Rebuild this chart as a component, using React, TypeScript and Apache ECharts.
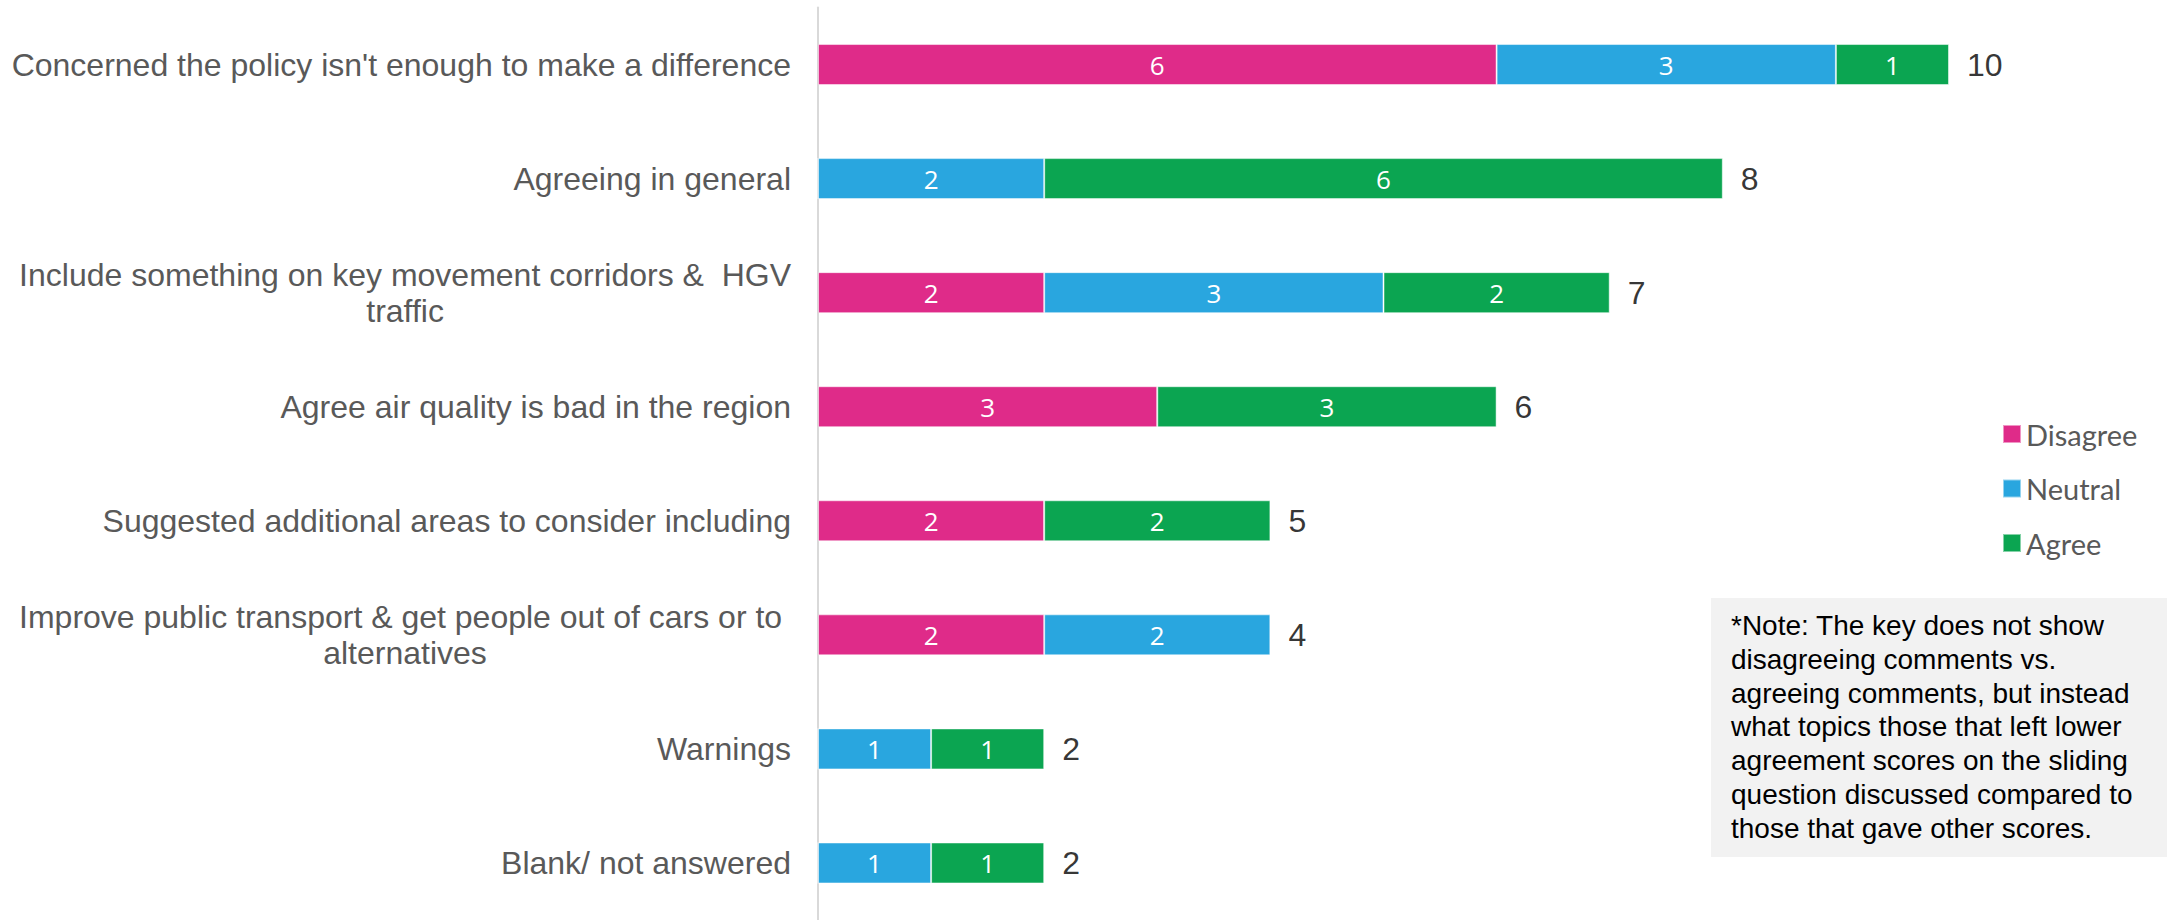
import React, { useEffect, useRef } from "react";
import * as echarts from "echarts";

const categories: string[] = [
  "Concerned the policy isn't enough to make a difference",
  "Agreeing in general",
  "Include something on key movement corridors &  HGV\ntraffic",
  "Agree air quality is bad in the region",
  "Suggested additional areas to consider including",
  "Improve public transport & get people out of cars or to \nalternatives",
  "Warnings",
  "Blank/ not answered",
];

const disagree: number[] = [6, 0, 2, 3, 2, 2, 0, 0];
const neutral: number[] = [3, 2, 3, 0, 0, 2, 1, 1];
const agree: number[] = [1, 6, 2, 3, 2, 0, 1, 1];
const totals: number[] = [10, 8, 7, 6, 5, 4, 2, 2];

const seriesNames: string[] = ["Disagree", "Neutral", "Agree"];

const noteLines: string[] = [
  "*Note: The key does not show",
  "disagreeing comments vs.",
  "agreeing comments, but instead",
  "what topics those that left lower",
  "agreement scores on the sliding",
  "question discussed compared to",
  "those that gave other scores.",
];

const COLORS = ["#DF2B89", "#29A6DF", "#0BA551"];

export default function App() {
  const ref = useRef<HTMLDivElement>(null);

  useEffect(() => {
    if (!ref.current) return;
    const chart = echarts.init(ref.current, undefined, { renderer: "svg" });

    const segLabel = {
      show: true,
      position: "inside",
      color: "#ffffff",
      fontFamily: "Open Sans",
      fontSize: 26,
      formatter: (p: any) => (p.value ? String(p.value) : ""),
    };

    const mkBar = (name: string, data: number[], color: string) => ({
      name,
      type: "bar",
      stack: "total",
      barWidth: 41,
      data,
      itemStyle: { color, borderColor: "rgba(255,255,255,0.5)", borderWidth: 1 },
      label: segLabel,
      emphasis: { disabled: true },
    });

    // total labels sit at the end of each drawn stack
    const stackEnds = categories.map((_, i) => disagree[i] + neutral[i] + agree[i]);

    chart.setOption({
      animation: false,
      grid: { left: 818, top: 7.5, width: 1131, height: 917 },
      xAxis: { type: "value", min: 0, max: 10, show: false },
      yAxis: {
        type: "category",
        inverse: true,
        data: categories,
        axisLine: { show: true, lineStyle: { color: "#d9d9d9", width: 2 } },
        axisTick: { show: false },
        splitLine: { show: false },
        axisLabel: {
          margin: 27,
          formatter: (v: string) =>
            v
              .split("\n")
              .map((l) => "{c|" + l + "}")
              .join("\n"),
          rich: {
            c: {
              align: "center",
              fontFamily: "Liberation Sans",
              fontSize: 32,
              lineHeight: 36,
              color: "#595959",
            },
          },
        },
      },
      legend: {
        data: seriesNames,
        orient: "vertical",
        left: 2002,
        top: 419,
        padding: 0,
        itemWidth: 18,
        itemHeight: 18,
        itemGap: 24.5,
        icon: "rect",
        selectedMode: false,
        textStyle: {
          fontFamily: "Lato",
          fontSize: 29,
          lineHeight: 30,
          color: "#595959",
        },
      },
      series: [
        mkBar(seriesNames[0], disagree, COLORS[0]),
        mkBar(seriesNames[1], neutral, COLORS[1]),
        mkBar(seriesNames[2], agree, COLORS[2]),
        {
          name: "Total",
          type: "scatter",
          symbolSize: 0,
          data: stackEnds.map((e, i) => ({ value: [e, i], total: totals[i] })),
          label: {
            show: true,
            position: "right",
            distance: 18,
            color: "#000000",
            fontFamily: "Liberation Sans",
            fontSize: 32,
            formatter: (p: any) => String(totals[p.dataIndex]),
          },
          emphasis: { disabled: true },
        },
      ],
      graphic: [
        {
          type: "rect",
          shape: { x: 1711, y: 598, width: 456, height: 259 },
          style: { fill: "#f2f2f2" },
          silent: true,
        },
        {
          type: "text",
          x: 1731,
          y: 609,
          style: {
            text: noteLines.join("\n"),
            fontFamily: "Liberation Sans",
            fontSize: 28,
            lineHeight: 33.7,
            fill: "#000000",
            verticalAlign: "top",
          },
          silent: true,
        },
      ],
    });

    return () => chart.dispose();
  }, []);

  return (
    <div
      ref={ref}
      style={{ position: "absolute", left: 0, top: 0, width: 2167, height: 920 }}
    />
  );
}
